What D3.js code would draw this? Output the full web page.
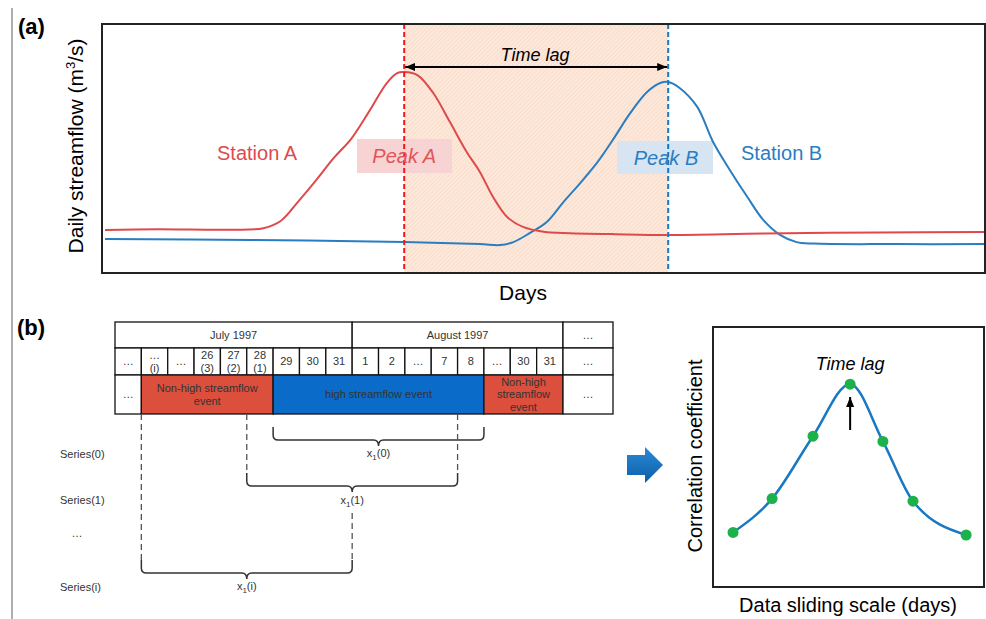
<!DOCTYPE html>
<html><head><meta charset="utf-8">
<script src="https://cdn.jsdelivr.net/npm/d3@7"></script>
<style>body{margin:0;background:#fff}svg{display:block}text{font-family:"Liberation Sans",Arial,sans-serif}</style>
</head><body><svg id="c" width="986" height="619"></svg>
<script>
// ---------- data ----------
const redDays  = [0, 6, 14, 18, 20, 22, 24, 26, 28, 30, 32, 33.2, 34, 35.5, 37.3, 39.2, 41.1, 42.6, 44.1, 45.7, 47.5, 50, 52, 58, 64, 75, 88, 100];
const redFlow  = [17.3, 17.6, 17.4, 18.0, 21.0, 28.9, 37.3, 46.2, 54, 64.8, 76.2, 80.3, 80.7, 79.5, 72.3, 60.6, 48.6, 40.6, 30.5, 22.5, 18.5, 16.5, 16.1, 15.6, 15.3, 15.9, 16.3, 16.5];
const blueDays = [0, 16.5, 34, 42.6, 44.9, 46.4, 48.3, 50.2, 52, 54, 55.9, 57.7, 59.7, 61.6, 63.1, 64, 65.3, 67.3, 69.1, 71, 73, 74.8, 76.7, 78.6, 80.5, 90, 100];
const blueFlow = [13.7, 13.3, 12.4, 11.6, 11.2, 12.4, 16.1, 20.5, 28.1, 36.1, 44.2, 53.4, 64.3, 72.7, 76.3, 76.7, 74.3, 66.7, 52.6, 41.4, 30.5, 21.3, 15.3, 12.4, 11.8, 11.6, 11.6];
const peakADay = 34, peakBDay = 64;

const monthRow = [{label:"July 1997", span:9}, {label:"August 1997", span:8}, {label:"…", span:1}];
const dayRow = ["…", "…|(i)", "…", "26|(3)", "27|(2)", "28|(1)", "29", "30", "31", "1", "2", "…", "7", "8", "…", "30", "31", "…"];
const eventRow = [
  {label:"…", span:1, type:"none"},
  {label:"Non-high streamflow|event", span:5, type:"non"},
  {label:"high streamflow event", span:8, type:"high"},
  {label:"Non-high|streamflow|event", span:3, type:"non"},
  {label:"…", span:1, type:"none"}
];
const seriesLabels = ["Series(0)", "Series(1)", "…", "Series(i)"];
const windows = [
  {name:"0", start:6, end:14},
  {name:"1", start:5, end:13},
  {name:"i", start:1, end:9}
];

const lagPos  = [0.74, 2.18, 3.69, 5.06, 6.27, 7.38, 9.34];
const corrVal = [0.21, 0.34, 0.58, 0.78, 0.56, 0.33, 0.20];

// ---------- drawing ----------
const svg = d3.select("#c");
const FONT = '"Liberation Sans",Arial,sans-serif';
const RED = "#de4a4c", BLUE = "#2a7dc1";

const defs = svg.append("defs");
const pat = defs.append("pattern").attr("id","hatch").attr("patternUnits","userSpaceOnUse")
  .attr("width",3).attr("height",3).attr("patternTransform","rotate(45)");
pat.append("rect").attr("width",3).attr("height",3).attr("fill","#fde9dc");
pat.append("line").attr("x1",0).attr("y1",0).attr("x2",0).attr("y2",3).attr("stroke","#f7cfb8").attr("stroke-width",1);
const mk = (id, color) => defs.append("marker").attr("id",id).attr("viewBox","0 0 10 10").attr("refX",10).attr("refY",5)
  .attr("markerWidth",5).attr("markerHeight",5).attr("orient","auto-start-reverse").attr("markerUnits","strokeWidth")
  .append("path").attr("d","M0,1L10,5L0,9z").attr("fill",color);
mk("arr","#000");
const grad = defs.append("linearGradient").attr("id","bg").attr("x1",0).attr("y1",0).attr("x2",0).attr("y2",1);
grad.append("stop").attr("offset","0").attr("stop-color","#2b8ad6");
grad.append("stop").attr("offset","1").attr("stop-color","#0d5ea8");

// left frame line
svg.append("line").attr("x1",12).attr("x2",12).attr("y1",8).attr("y2",619).attr("stroke","#777").attr("stroke-width",1.2);

// ===== Panel (a) =====
const ax = {l:102, r:985, t:24, b:273};
const x = d3.scaleLinear().domain([0,100]).range([105,985]);
const y = d3.scaleLinear().domain([0,100]).range([ax.b, ax.t]);

svg.append("text").attr("x",18).attr("y",34).attr("font-size",22).attr("font-weight","bold").text("(a)");

svg.append("rect").attr("x",x(peakADay)).attr("y",ax.t).attr("width",x(peakBDay)-x(peakADay)).attr("height",ax.b-ax.t).attr("fill","url(#hatch)");

const line = d3.line().x(d=>x(d[0])).y(d=>y(d[1])).curve(d3.curveCatmullRom.alpha(0.5));
const redPts = redDays.map((d,i)=>[d, redFlow[i]]);
const bluePts = blueDays.map((d,i)=>[d, blueFlow[i]]);

// peak boxes
svg.append("rect").attr("x",357).attr("y",139).attr("width",95).attr("height",34).attr("fill","#f7d3d3");
svg.append("rect").attr("x",617).attr("y",141).attr("width",96).attr("height",33).attr("fill","#d6e5f1");

svg.append("path").attr("d",line(bluePts)).attr("fill","none").attr("stroke",BLUE).attr("stroke-width",2);
svg.append("path").attr("d",line(redPts)).attr("fill","none").attr("stroke",RED).attr("stroke-width",2);

svg.append("line").attr("x1",x(peakADay)).attr("x2",x(peakADay)).attr("y1",ax.t).attr("y2",ax.b)
  .attr("stroke","#f01818").attr("stroke-width",2).attr("stroke-dasharray","5,3");
svg.append("line").attr("x1",x(peakBDay)).attr("x2",x(peakBDay)).attr("y1",ax.t).attr("y2",ax.b)
  .attr("stroke","#1578c8").attr("stroke-width",2).attr("stroke-dasharray","5,3");

svg.append("text").attr("x",x(peakADay)).attr("y",163).attr("text-anchor","middle").attr("font-size",20)
  .attr("font-style","italic").attr("fill","#e05558").text("Peak A");
svg.append("text").attr("x",666).attr("y",165).attr("text-anchor","middle").attr("font-size",20)
  .attr("font-style","italic").attr("fill",BLUE).text("Peak B");
svg.append("text").attr("x",217).attr("y",160).attr("font-size",20).attr("fill",RED).text("Station A");
svg.append("text").attr("x",741).attr("y",160).attr("font-size",20).attr("fill",BLUE).text("Station B");

// time lag arrow
svg.append("line").attr("x1",x(peakADay)+1).attr("x2",x(peakBDay)-1).attr("y1",67).attr("y2",67)
  .attr("stroke","#000").attr("stroke-width",2).attr("marker-start","url(#arr)").attr("marker-end","url(#arr)");
svg.append("text").attr("x",535).attr("y",61).attr("text-anchor","middle").attr("font-size",18).attr("font-style","italic").text("Time lag");

svg.append("rect").attr("x",ax.l).attr("y",ax.t).attr("width",ax.r-ax.l).attr("height",ax.b-ax.t)
  .attr("fill","none").attr("stroke","#222").attr("stroke-width",2);

const yl = svg.append("text").attr("transform","translate(83,146) rotate(-90)").attr("text-anchor","middle").attr("font-size",21);
yl.append("tspan").text("Daily streamflow (m");
yl.append("tspan").attr("font-size",13).attr("dy",-8).text("3");
yl.append("tspan").attr("dy",8).text("/s)");
svg.append("text").attr("x",523).attr("y",300).attr("text-anchor","middle").attr("font-size",21).text("Days");

// ===== Panel (b) =====
svg.append("text").attr("x",17).attr("y",335).attr("font-size",22).attr("font-weight","bold").text("(b)");

const colW = (563-115)/17;
const colX = i => i <= 17 ? 115 + i*colW : 613;
const rowY = [322, 348, 375, 414];
const tbl = svg.append("g");
const TXT = "#333";

function multiText(g, cx, cy, label, size, lh) {
  const parts = label.split("|");
  const t = g.append("text").attr("x",cx).attr("text-anchor","middle").attr("font-size",size).attr("fill",TXT);
  parts.forEach((p,i)=>{
    t.append("tspan").attr("x",cx).attr("y", cy + (i-(parts.length-1)/2)*lh + size*0.35).text(p);
  });
}

// row 1
let c = 0;
monthRow.forEach(m => {
  const x0 = colX(c), x1 = colX(c+m.span);
  tbl.append("rect").attr("x",x0).attr("y",rowY[0]).attr("width",x1-x0).attr("height",rowY[1]-rowY[0]).attr("fill","#fff").attr("stroke","#111").attr("stroke-width",1.3);
  multiText(tbl, (x0+x1)/2, (rowY[0]+rowY[1])/2, m.label, 11, 13);
  c += m.span;
});
// row 2
dayRow.forEach((d,i) => {
  const x0 = colX(i), x1 = colX(i+1);
  tbl.append("rect").attr("x",x0).attr("y",rowY[1]).attr("width",x1-x0).attr("height",rowY[2]-rowY[1]).attr("fill","#fff").attr("stroke","#111").attr("stroke-width",1.3);
  multiText(tbl, (x0+x1)/2, (rowY[1]+rowY[2])/2, d, 11, 13);
});
// row 3
c = 0;
eventRow.forEach(e => {
  const x0 = colX(c), x1 = colX(c+e.span);
  const fill = e.type==="non" ? "#dc4f3d" : e.type==="high" ? "#0a6cc8" : "#fff";
  tbl.append("rect").attr("x",x0).attr("y",rowY[2]).attr("width",x1-x0).attr("height",rowY[3]-rowY[2]).attr("fill",fill).attr("stroke","#111").attr("stroke-width",1.3);
  multiText(tbl, (x0+x1)/2, (rowY[2]+rowY[3])/2, e.label, 11, 12.5);
  c += e.span;
});

// series labels
const seriesY = [458, 504, 537, 591];
seriesLabels.forEach((s,i)=>{
  svg.append("text").attr("x", s==="…" ? 77 : 60).attr("y",seriesY[i]).attr("text-anchor", s==="…" ? "middle":"start")
    .attr("font-size",11).attr("fill",TXT).text(s);
});

// brackets
const brk = [{top:427, h:440}, {top:473, h:486}, {top:560, h:573}];
const lblY = [457, 504, 590];
function brace(x1, x2, yTop, yH) {
  const r = 5, tip = 6, xm = (x1+x2)/2;
  return `M${x1},${yTop} L${x1},${yH-r} Q${x1},${yH} ${x1+r},${yH} L${xm-r},${yH} Q${xm},${yH} ${xm},${yH+tip} Q${xm},${yH} ${xm+r},${yH} L${x2-r},${yH} Q${x2},${yH} ${x2},${yH-r} L${x2},${yTop}`;
}
windows.forEach((w,i)=>{
  const x1 = colX(w.start), x2 = colX(w.end);
  svg.append("path").attr("d",brace(x1,x2,brk[i].top,brk[i].h)).attr("fill","none").attr("stroke","#333").attr("stroke-width",1.5);
  const t = svg.append("text").attr("x",(x1+x2)/2).attr("y",lblY[i]).attr("text-anchor","middle").attr("font-size",11).attr("fill",TXT);
  t.append("tspan").text("x");
  t.append("tspan").attr("font-size",8).attr("dy",3).text("1");
  t.append("tspan").attr("dy",-3).text("("+w.name+")");
});
// dashed guides
const dash = [
  {x:colX(windows[1].start), y1:rowY[3], y2:brk[1].top},
  {x:colX(windows[1].end), y1:rowY[3], y2:brk[1].top},
  {x:colX(windows[2].start), y1:rowY[3], y2:brk[2].top},
  {x:colX(windows[2].end), y1:513, y2:brk[2].top}
];
dash.forEach(d=>svg.append("line").attr("x1",d.x).attr("x2",d.x).attr("y1",d.y1).attr("y2",d.y2)
  .attr("stroke","#555").attr("stroke-width",1.3).attr("stroke-dasharray","6,4"));

// blue arrow
svg.append("path").attr("d","M627,455 L645,455 L645,447 L663,465 L645,483 L645,475 L627,475 Z").attr("fill","url(#bg)");

// ===== Panel (c) =====
const cb = {l:713, r:984, t:327, b:587};
const cx = d3.scaleLinear().domain([0,10]).range([cb.l, cb.r]);
const cy = d3.scaleLinear().domain([0,1]).range([cb.b, cb.t]);
const cpts = lagPos.map((d,i)=>[d, corrVal[i]]);
svg.append("rect").attr("x",cb.l).attr("y",cb.t).attr("width",cb.r-cb.l).attr("height",cb.b-cb.t).attr("fill","none").attr("stroke","#222").attr("stroke-width",2);
svg.append("path").attr("d",d3.line().x(d=>cx(d[0])).y(d=>cy(d[1])).curve(d3.curveMonotoneX)(cpts))
  .attr("fill","none").attr("stroke","#1a78c2").attr("stroke-width",2.5);
svg.selectAll("circle.pt").data(cpts).enter().append("circle").attr("cx",d=>cx(d[0])).attr("cy",d=>cy(d[1])).attr("r",5.5).attr("fill","#1db14b");
const peakI = corrVal.indexOf(d3.max(corrVal));
svg.append("line").attr("x1",cx(lagPos[peakI])).attr("x2",cx(lagPos[peakI])).attr("y1",430).attr("y2",397)
  .attr("stroke","#000").attr("stroke-width",2).attr("marker-end","url(#arr)");
svg.append("text").attr("x",cx(lagPos[peakI])).attr("y",370).attr("text-anchor","middle").attr("font-size",18).attr("font-style","italic").text("Time lag");
svg.append("text").attr("transform","translate(702,456) rotate(-90)").attr("text-anchor","middle").attr("font-size",20).text("Correlation coefficient");
svg.append("text").attr("x",848).attr("y",612).attr("text-anchor","middle").attr("font-size",20).text("Data sliding scale (days)");
</script></body></html>
